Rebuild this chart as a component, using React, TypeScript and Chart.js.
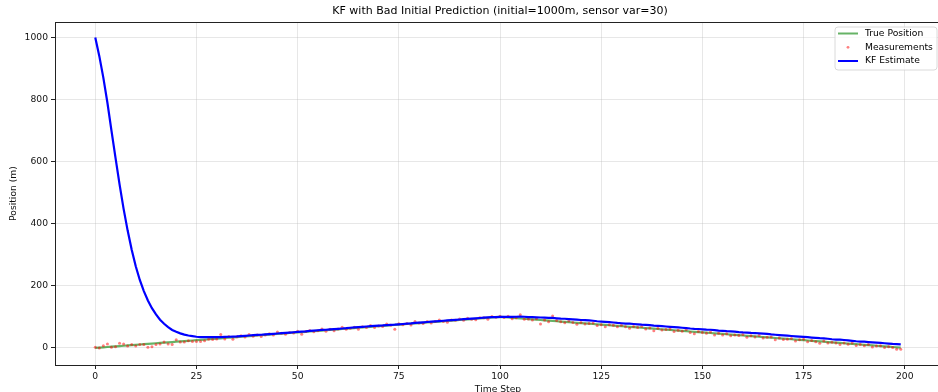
import React, { useEffect, useRef } from "react";
import { Chart, registerables } from "chart.js";

Chart.register(...registerables);

const chartTitle = "KF with Bad Initial Prediction (initial=1000m, sensor var=30)";
const xAxisTitle = "Time Step";
const yAxisTitle = "Position (m)";
const seriesNames = ["True Position", "Measurements", "KF Estimate"];

const timeSteps = Array.from({ length: 200 }, (_, i) => i);

const truePosition = [
  0, 1, 2, 3, 4, 5, 6, 7, 8, 9, 10, 11, 12, 13, 14, 15, 16, 17, 18, 19,
  20, 21, 22, 23, 24, 25, 26, 27, 28, 29, 30, 31, 32, 33, 34, 35, 36, 37, 38, 39,
  40, 41, 42, 43, 44, 45, 46, 47, 48, 49, 50, 51, 52, 53, 54, 55, 56, 57, 58, 59,
  60, 61, 62, 63, 64, 65, 66, 67, 68, 69, 70, 71, 72, 73, 74, 75, 76, 77, 78, 79,
  80, 81, 82, 83, 84, 85, 86, 87, 88, 89, 90, 91, 92, 93, 94, 95, 96, 97, 98, 99,
  100, 99, 98, 97, 96, 95, 94, 93, 92, 91, 90, 89, 88, 87, 86, 85, 84, 83, 82, 81,
  80, 79, 78, 77, 76, 75, 74, 73, 72, 71, 70, 69, 68, 67, 66, 65, 64, 63, 62, 61,
  60, 59, 58, 57, 56, 55, 54, 53, 52, 51, 50, 49, 48, 47, 46, 45, 44, 43, 42, 41,
  40, 39, 38, 37, 36, 35, 34, 33, 32, 31, 30, 29, 28, 27, 26, 25, 24, 23, 22, 21,
  20, 19, 18, 17, 16, 15, 14, 13, 12, 11, 10, 9, 8, 7, 6, 5, 4, 3, 2, 1,
];

const measurements = [
  2, 0, 7, 13, 2, 4, 15, 13, 6, 11, 6, 11, 11, 2, 4, 11, 13, 19, 13, 11,
  26, 19, 19, 23, 21, 21, 21, 23, 28, 27, 29, 43, 29, 37, 28, 36, 39, 35, 43, 38,
  42, 37, 42, 46, 42, 51, 47, 44, 50, 48, 54, 44, 53, 56, 52, 55, 61, 54, 60, 55,
  61, 67, 60, 63, 67, 60, 68, 66, 72, 66, 71, 69, 77, 73, 60, 78, 75, 79, 74, 85,
  80, 79, 85, 80, 85, 90, 85, 83, 90, 89, 93, 89, 96, 92, 91, 97, 97, 92, 101, 99,
  102, 98, 102, 94, 97, 107, 92, 93, 90, 94, 77, 90, 84, 103, 88, 84, 81, 87, 82, 76,
  82, 77, 79, 80, 72, 75, 68, 75, 73, 68, 73, 68, 63, 69, 66, 69, 61, 64, 55, 63,
  58, 59, 61, 53, 57, 54, 59, 50, 46, 53, 50, 47, 51, 42, 47, 42, 46, 39, 42, 40,
  43, 34, 39, 35, 40, 32, 34, 35, 26, 32, 27, 28, 30, 22, 26, 28, 20, 24, 20, 15,
  22, 16, 18, 16, 11, 16, 12, 16, 8, 11, 7, 11, 3, 6, 7, 1, 4, 1, -4, -4,
];

const kfEstimate = [
  1000, 940, 870, 790, 700, 612, 527, 448, 378, 316, 263, 219, 183, 153, 128, 108, 91, 78, 67, 58,
  52, 47, 43, 40, 38, 36, 35, 34.5, 34.5, 34.5, 35, 35, 35.5, 36, 36.5, 37, 38, 39, 40, 41,
  42, 42.5, 43.5, 44.5, 45.5, 46.5, 47.5, 48.5, 49.5, 50.5, 51.5, 52.5, 53.5, 55, 56, 57, 58, 58.5, 59.5, 60.5,
  61.5, 62.5, 63.5, 65, 66, 67, 68, 69, 70, 71, 72, 72.5, 73.5, 74.5, 75, 76, 77, 78, 79, 80.5,
  81.5, 82.5, 83.5, 84.5, 85.5, 86.5, 87.5, 88.5, 89.5, 90.5, 91.5, 92.5, 93.5, 94.5, 95.5, 96.5, 97.5, 98.5, 99, 99.5,
  100, 100, 100, 100, 100.5, 101, 100.5, 99.5, 99, 98.5, 98, 97.5, 97, 96.5, 95.5, 94.5, 94, 93, 92, 91,
  90, 89.5, 88.5, 87.5, 86, 85, 84, 83, 82, 80.5, 79.5, 78.5, 78, 77, 76, 75, 74.5, 73.5, 72, 71,
  70, 69, 68, 67, 66, 65, 64, 62.5, 61.5, 61, 60, 59, 58.5, 57.5, 56, 55, 54, 53.5, 52.5, 51,
  50, 49.5, 48.5, 48, 47, 46, 45, 43.5, 42.5, 41.5, 40.5, 39.5, 38.5, 37.5, 36.5, 35.5, 34.5, 33.5, 32.5, 31.5,
  31, 29.5, 28, 27, 26.5, 25.5, 24.5, 23, 21.5, 20.5, 20, 19, 18, 17, 16, 15, 14, 13, 12.5, 11.5,
];

const xTicks = [0, 25, 50, 75, 100, 125, 150, 175, 200];
const yTicks = [0, 200, 400, 600, 800, 1000];

const FONT = "DejaVu Sans";
const trueColor = "rgba(0,128,0,0.6)";
const measColor = "rgba(255,0,0,0.5)";
const kfColor = "#0000ff";

export default function App() {
  const canvasRef = useRef<HTMLCanvasElement | null>(null);

  useEffect(() => {
    const canvas = canvasRef.current;
    if (!canvas) return;

    const decor = {
      id: "decor",
      afterDraw(chart: any) {
        const ctx = chart.ctx;
        const a = chart.chartArea;
        ctx.save();
        ctx.strokeStyle = "#222";
        ctx.lineWidth = 1;
        ctx.beginPath();
        ctx.moveTo(a.left, a.top + 0.5);
        ctx.lineTo(a.right, a.top + 0.5);
        ctx.moveTo(a.right - 0.5, a.top);
        ctx.lineTo(a.right - 0.5, a.bottom);
        ctx.stroke();

        ctx.fillStyle = "#000";
        ctx.font = `11px "${FONT}"`;
        ctx.textAlign = "center";
        ctx.textBaseline = "middle";
        ctx.fillText(chartTitle, (a.left + a.right) / 2 + 2, 11);

        const bx = 835, by = 27, bw = 102, bh = 43, r = 3;
        ctx.beginPath();
        ctx.moveTo(bx + r, by);
        ctx.lineTo(bx + bw - r, by);
        ctx.quadraticCurveTo(bx + bw, by, bx + bw, by + r);
        ctx.lineTo(bx + bw, by + bh - r);
        ctx.quadraticCurveTo(bx + bw, by + bh, bx + bw - r, by + bh);
        ctx.lineTo(bx + r, by + bh);
        ctx.quadraticCurveTo(bx, by + bh, bx, by + bh - r);
        ctx.lineTo(bx, by + r);
        ctx.quadraticCurveTo(bx, by, bx + r, by);
        ctx.closePath();
        ctx.fillStyle = "rgba(255,255,255,0.8)";
        ctx.fill();
        ctx.strokeStyle = "#d0d0d0";
        ctx.lineWidth = 0.8;
        ctx.stroke();

        const rows = [33.5, 47.3, 61];
        ctx.font = `9.2px "${FONT}"`;
        ctx.textAlign = "left";
        ctx.textBaseline = "middle";
        rows.forEach((yy, i) => {
          if (i === 1) {
            ctx.fillStyle = measColor;
            ctx.beginPath();
            ctx.arc(848, yy, 1.4, 0, Math.PI * 2);
            ctx.fill();
          } else {
            ctx.strokeStyle = i === 0 ? trueColor : kfColor;
            ctx.lineWidth = 2;
            ctx.beginPath();
            ctx.moveTo(838, yy);
            ctx.lineTo(858, yy);
            ctx.stroke();
          }
          ctx.fillStyle = "#000";
          ctx.fillText(seriesNames[i], 865, yy);
        });
        ctx.restore();
      },
    };

    const toPts = (arr: number[]) => timeSteps.map((t, i) => ({ x: t, y: arr[i] }));

    const gridColor = "rgba(176,176,176,0.3)";
    const tickFont = { family: FONT, size: 9.2 };

    const chart = new Chart(canvas, {
      type: "line",
      data: {
        datasets: [
          {
            label: seriesNames[0],
            data: toPts(truePosition),
            borderColor: trueColor,
            borderWidth: 2.2,
            pointRadius: 0,
            order: 3,
          },
          {
            label: seriesNames[1],
            data: toPts(measurements),
            showLine: false,
            pointRadius: 1.5,
            pointBorderWidth: 0,
            pointBackgroundColor: measColor,
            borderColor: measColor,
            order: 2,
          },
          {
            label: seriesNames[2],
            data: toPts(kfEstimate),
            borderColor: kfColor,
            borderWidth: 2.2,
            pointRadius: 0,
            order: 1,
          },
        ],
      },
      options: {
        responsive: false,
        animation: false,
        events: [],
        layout: { padding: { left: 0, right: 9, top: 22, bottom: 0 } },
        plugins: {
          legend: { display: false },
          tooltip: { enabled: false },
          title: { display: false },
        },
        scales: {
          x: {
            type: "linear",
            min: -9.95,
            max: 208.95,
            afterBuildTicks: (s: any) => {
              s.ticks = xTicks.map((v) => ({ value: v }));
            },
            afterFit: (s: any) => {
              s.height = 35;
            },
            ticks: {
              font: tickFont,
              color: "#111",
              maxRotation: 0,
              autoSkip: false,
              padding: 2,
              callback: (v: any) => String(v),
            },
            grid: {
              color: gridColor,
              tickColor: "#222",
              tickLength: 4,
              drawTicks: true,
            },
            border: { display: true, color: "#222", width: 1 },
            title: {
              display: true,
              text: xAxisTitle,
              font: tickFont,
              color: "#111",
              padding: { top: 0, bottom: 5 },
            },
          },
          y: {
            type: "linear",
            min: -55,
            max: 1050,
            afterBuildTicks: (s: any) => {
              s.ticks = yTicks.map((v) => ({ value: v }));
            },
            afterFit: (s: any) => {
              s.width = 55;
            },
            ticks: {
              font: tickFont,
              color: "#111",
              autoSkip: false,
              padding: 3,
              callback: (v: any) => String(v),
            },
            grid: {
              color: gridColor,
              tickColor: "#222",
              tickLength: 4,
              drawTicks: true,
            },
            border: { display: true, color: "#222", width: 1 },
            title: {
              display: true,
              text: yAxisTitle,
              font: tickFont,
              color: "#111",
              padding: { top: 8, bottom: 0 },
            },
          },
        },
      },
      plugins: [decor],
    } as any);

    return () => chart.destroy();
  }, []);

  return (
    <div
      style={{
        position: "fixed",
        left: 0,
        top: 0,
        width: 938,
        height: 392,
        overflow: "hidden",
        background: "#fff",
      }}
    >
      <canvas ref={canvasRef} width={950} height={400} style={{ width: 950, height: 400, display: "block" }} />
    </div>
  );
}
